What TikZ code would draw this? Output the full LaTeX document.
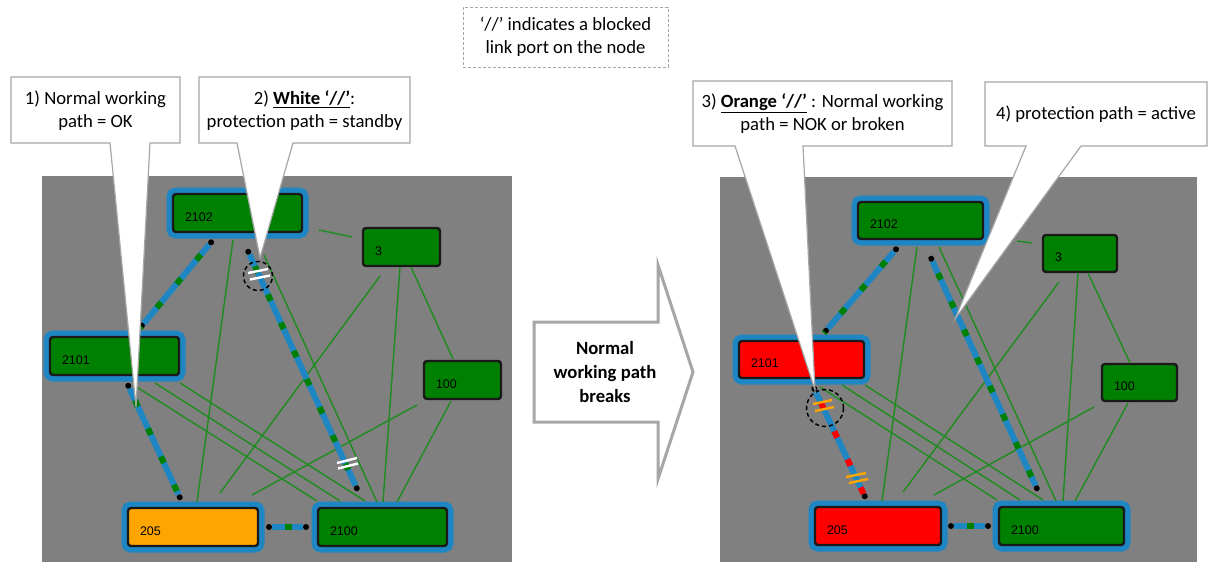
\documentclass[tikz,border=0pt]{standalone}
\usepackage{fontspec}
\setmainfont{Carlito}
\newfontfamily\lblfont{Liberation Sans}
\usetikzlibrary{arrows.meta,calc}
\definecolor{panelgray}{RGB}{128,128,128}
\definecolor{nodegreen}{RGB}{0,128,0}
\definecolor{nodeorange}{RGB}{255,165,0}
\definecolor{nodered}{RGB}{255,0,0}
\definecolor{linkblue}{RGB}{30,135,195}
\definecolor{linkgreen}{RGB}{0,128,0}
\definecolor{thingreen}{RGB}{30,140,30}
\definecolor{calloutgray}{RGB}{166,166,166}
\definecolor{nodeedge}{RGB}{25,25,25}

\begin{document}
\begin{tikzpicture}[x=1pt,y=-1pt,font=\fontsize{18.67}{23}\selectfont,
  nd/.style={rectangle,rounded corners=3pt,draw=nodeedge,line width=2.4pt,fill=#1,minimum height=38pt,inner sep=0pt},
  sel/.style={preaction={draw=linkblue,line width=13pt}},
  lbl/.style={anchor=west,inner sep=0pt,xshift=13pt,yshift=-4pt,font=\lblfont\fontsize{12.5}{14}\selectfont},
  plink/.style={draw=thingreen,line width=1.4pt},
  wpath/.style={draw=linkblue,line width=6pt,{Circle[length=6pt,line width=0pt,color=black]}-{Circle[length=6pt,line width=0pt,color=black]},postaction={draw=#1,-,line width=6pt,dash pattern=on 7pt off 24pt,dash phase=12pt}},
  wpath/.default=linkgreen,
  blk/.style={draw=#1,line width=2.4pt},
  ring/.style={draw=black,line width=1.5pt,dash pattern=on 4pt off 3pt},
  callout/.style={draw=calloutgray,line width=1.2pt,fill=white,line join=miter},
  calltext/.style={align=center,inner sep=0pt}]
\useasboundingbox (0,0) rectangle (1215,562);

% panels
\fill[panelgray] (42,176) rectangle (512,562);
\fill[panelgray] (720,177) rectangle (1197,562);

% left network, before the break
\node[nd=nodegreen,sel,minimum width=129pt,label={[lbl]west:2102}] (L2102) at (237.5,213) {};
\node[nd=nodegreen,minimum width=77pt,label={[lbl]west:3}] (L3) at (401.5,247) {};
\node[nd=nodegreen,sel,minimum width=129pt,label={[lbl]west:2101}] (L2101) at (114.5,356) {};
\node[nd=nodegreen,minimum width=77pt,label={[lbl]west:100}] (L100) at (462.5,380) {};
\node[nd=nodeorange,sel,minimum width=130pt,label={[lbl]west:205}] (L205) at (193,527) {};
\node[nd=nodegreen,sel,minimum width=129pt,label={[lbl]west:2100}] (L2100) at (382.5,527) {};

\draw[plink] ($(L2102)+(81.5,17)$) -- ($(L3)+(-49.5,-10)$);
\draw[plink] ($(L2102)+(-4.5,27)$) -- ($(L205)+(4,-25)$);
\draw[plink] ($(L2102)+(26.5,42)$) -- ($(L2100)+(-5.5,-25)$);
\draw[plink] ($(L3)+(-21.5,29)$) -- ($(L205)+(27,-34)$);
\draw[plink] ($(L3)+(-1.5,20)$) -- ($(L2100)+(0.5,-25)$);
\draw[plink] ($(L3)+(9.5,20)$) -- ($(L100)+(-9.5,-21)$);
\draw[plink] ($(L100)+(-45.5,25)$) -- ($(L205)+(59,-32)$);
\draw[plink] ($(L100)+(-11.5,21)$) -- ($(L2100)+(14.5,-25)$);
\draw[plink] ($(L2101)+(20.5,30)$) -- ($(L2100)+(-65.5,-26)$);
\draw[plink] ($(L2101)+(40.5,27)$) -- ($(L2100)+(-42.5,-26)$);
\draw[plink] ($(L2101)+(65.5,27)$) -- ($(L2100)+(-17.5,-26)$);

\draw[wpath] ($(L2102)+(-24.5,27)$) -- ($(L2101)+(25.5,-28)$);
\draw[wpath] ($(L2102)+(9.5,36)$) -- ($(L2100)+(-24.5,-36)$);
\draw[wpath] ($(L2101)+(12.5,27)$) -- ($(L205)+(-12,-27)$);
\draw[wpath] ($(L205)+(73,0)$) -- ($(L2100)+(-73.5,0)$);

\coordinate (Lblk1) at (258,275);
\coordinate (Lblk2) at (347,463);
\draw[blk=white] ($(Lblk1)+(-10,-2)$) -- ++(20,-4) ($(Lblk1)+(-8,4.5)$) -- ++(20,-4);
\draw[blk=white] ($(Lblk2)+(-10,0)$) -- ++(20,-5) ($(Lblk2)+(-9,5.5)$) -- ++(20,-5);
\draw[ring] ($(Lblk1)+(0,1)$) circle (14.5pt);

% right network, after the break
\node[nd=nodegreen,sel,minimum width=125pt,minimum height=37pt,label={[lbl]west:2102}] (R2102) at (920.5,220.5) {};
\node[nd=nodegreen,minimum width=74pt,minimum height=37pt,label={[lbl]west:3}] (R3) at (1080,253.5) {};
\node[nd=nodered,sel,minimum width=125pt,minimum height=37pt,label={[lbl]west:2101}] (R2101) at (801.5,359.5) {};
\node[nd=nodegreen,minimum width=75pt,minimum height=37pt,label={[lbl]west:100}] (R100) at (1139.5,382.5) {};
\node[nd=nodered,sel,minimum width=126pt,label={[lbl]west:205}] (R205) at (878,526) {};
\node[nd=nodegreen,sel,minimum width=125pt,label={[lbl]west:2100}] (R2100) at (1061.5,526) {};

\draw[plink] ($(R2102)+(96.5,20.5)$) -- ($(R3)+(-48,-10.5)$);
\draw[plink] ($(R2102)+(-3.5,26.5)$) -- ($(R205)+(4,-25)$);
\draw[plink] ($(R2102)+(18.5,26.5)$) -- ($(R2100)+(-5.5,-25)$);
\draw[plink] ($(R3)+(-21,28.5)$) -- ($(R205)+(25,-34)$);
\draw[plink] ($(R3)+(-2,19.5)$) -- ($(R2100)+(1.5,-25)$);
\draw[plink] ($(R3)+(8,19.5)$) -- ($(R100)+(-9.5,-19.5)$);
\draw[plink] ($(R100)+(-45.5,24.5)$) -- ($(R205)+(56,-31)$);
\draw[plink] ($(R100)+(-11.5,20.5)$) -- ($(R2100)+(13.5,-25)$);
\draw[plink] ($(R2101)+(18.5,27.5)$) -- ($(R2100)+(-64.5,-26)$);
\draw[plink] ($(R2101)+(40.5,25.5)$) -- ($(R2100)+(-41.5,-26)$);
\draw[plink] ($(R2101)+(63.5,25.5)$) -- ($(R2100)+(-18.5,-26)$);

\draw[wpath] ($(R2102)+(-22.5,26.5)$) -- ($(R2101)+(22.5,-26.5)$);
\draw[wpath] ($(R2102)+(9.5,35.5)$) -- ($(R2100)+(-23.5,-35)$);
\draw[wpath=nodered] ($(R2101)+(11.5,26.5)$) -- ($(R205)+(-12,-27)$);
\draw[wpath] ($(R205)+(70,0)$) -- ($(R2100)+(-70.5,0)$);

\coordinate (Rblk1) at (823,405);
\coordinate (Rblk2) at (857,478);
\draw[blk=nodeorange] ($(Rblk1)+(-10,-1)$) -- ++(19,-4) ($(Rblk1)+(-8,6)$) -- ++(19,-4);
\draw[blk=nodeorange] ($(Rblk2)+(-11,-1)$) -- ++(20,-4) ($(Rblk2)+(-8,5)$) -- ++(19,-4);
\draw[ring] ($(Rblk1)+(2,3)$) circle (18.5pt);

% callouts
\coordinate (tip1) at (136,407);
\coordinate (tip2) at (260,258);
\coordinate (tip3) at (815,390);
\coordinate (tip4) at (955,319);
\draw[callout] (11,77) -- (180,77) -- (180,143) -- (150,143) -- (tip1) -- (110,143) -- (11,143) -- cycle;
\draw[callout] (199,77) -- (410,77) -- (410,143) -- (293,143) -- (tip2) -- (237,143) -- (199,143) -- cycle;
\draw[callout] (693,81) -- (952,81) -- (952,146) -- (803,146) -- (tip3) -- (735,146) -- (693,146) -- cycle;
\draw[callout] (985,82) -- (1207,82) -- (1207,146) -- (1081,146) -- (tip4) -- (1026,146) -- (985,146) -- cycle;
\node[calltext] (c1) at (95.5,111) {1) Normal working\\path = OK};
\node[calltext] (c2) at (304.5,111) {2) \underline{\textbf{White ‘//’}}:\\protection path = standby};
\node[calltext] (c3) at (822.5,114) {3) \underline{\textbf{Orange ‘//’}} : Normal working\\path = NOK or broken};
\node[calltext] (c4) at (1096,114) {4) protection path = active};

% legend note
\node[draw=calloutgray,dash pattern=on 3pt off 2pt,line width=1pt,minimum width=205pt,minimum height=60pt,align=center,inner sep=0pt] (note) at (565.5,37) {‘//’ indicates a blocked\\link port on the node};

% transition arrow
\draw[draw=calloutgray,line width=3pt,fill=white] (534,322) -- (658,322) -- (658,265) -- (693,372) -- (658,479) -- (658,422) -- (534,422) -- cycle;
\node[align=center,font=\bfseries\fontsize{18.67}{24}\selectfont] (brk) at (605,372) {Normal\\working path\\breaks};
\end{tikzpicture}
\end{document}
